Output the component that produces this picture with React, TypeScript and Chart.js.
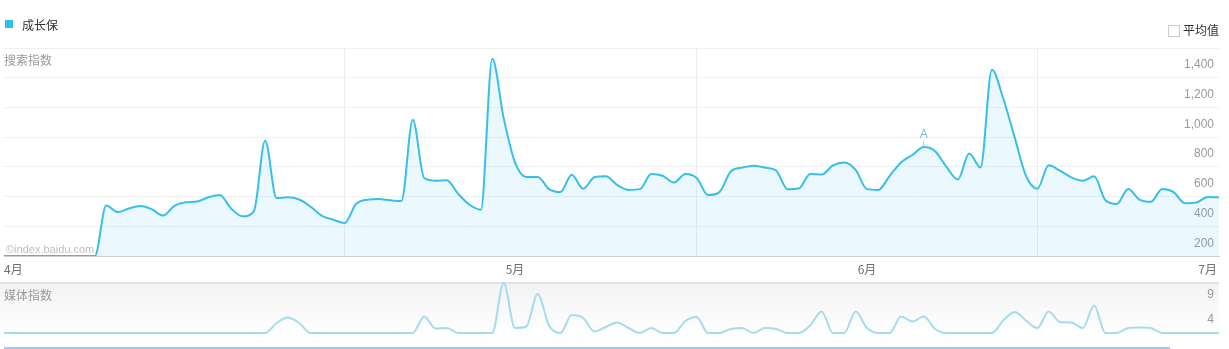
import React, { useEffect, useRef } from 'react';
import { Chart, registerables } from 'chart.js';

Chart.register(...registerables);

// ---- data ----
const searchValues: number[] = [
  0, 0, 0, 0, 0, 0, 0, 0, 0, 340,
  296, 320, 336, 315, 272, 338, 362, 367, 395, 410,
  320, 267, 300, 776, 390, 395, 380, 332, 270, 244,
  222, 350, 379, 383, 375, 370, 917, 525, 507, 510,
  418, 345, 312, 1328, 929, 630, 532, 532, 450, 430,
  547, 453, 530, 536, 478, 445, 450, 552, 540, 495,
  552, 525, 410, 430, 569, 595, 608, 595, 575, 450,
  455, 552, 548, 610, 630, 580, 450, 445, 540, 630,
  680, 733, 705, 600, 515, 690, 596, 1254, 1060, 800,
  540, 453, 610, 574, 529, 507, 536, 375, 350, 451,
  380, 365, 451, 430, 355, 360, 397, 395,
];

const mediaValues: number[] = [
  0, 0, 0, 0, 0, 0, 0, 0, 0, 0,
  0, 0, 0, 0, 0, 0, 0, 0, 0, 0,
  0, 0, 0, 0, 2.0, 3.1, 2.0, 0, 0, 0,
  0, 0, 0, 0, 0, 0, 0, 3.3, 0.9, 1.0,
  0, 0, 0, 0, 10, 1.0, 1.3, 7.8, 1.5, 0,
  3.6, 3.0, 0.3, 1.2, 2.1, 1.0, 0, 1.0, 0, 0,
  2.4, 3.2, 0, 0, 0.8, 1.0, 0, 1.0, 0.8, 0,
  0, 1.5, 4.3, 0, 0, 4.3, 1.0, 0, 0, 3.3,
  2.3, 3.3, 0.8, 0, 0, 0, 0, 0, 2.5, 4.2,
  2.5, 1.0, 4.3, 2.2, 2.1, 1.0, 5.5, 0, 0, 1.0,
  1.1, 1.0, 0, 0, 0, 0, 0, 0,
];

const categories: string[] = searchValues.map((_, i) => {
  const d = new Date(2016, 2, 17 + i);
  return `${d.getMonth() + 1}/${d.getDate()}`;
});

const monthTickIndex = [0, 45, 76, 106];
const monthTickLabels = ['4月', '5月', '6月', '7月'];
const verticalGridIndex = [30, 61, 91];
const searchAxisMin = 0;
const searchAxisMax = 1400;
const searchAxisStep = 200;
const mediaAxisMax = 10;
const mediaTickValues = [4, 9];
const eventMarkers = [{ index: 81, label: 'A' }];

const seriesName = '成长保';

const NUM_FONT = '"Liberation Sans", Arial, "Noto Sans CJK SC", sans-serif';
const CJK_FONT = '"Noto Sans CJK SC", "Liberation Sans", sans-serif';

const markerPlugin = {
  id: 'eventMarkers',
  afterDatasetsDraw(chart: any) {
    const { ctx, scales } = chart;
    const xs = scales.x;
    const ys = scales.y;
    const data = chart.data.datasets[0].data as number[];
    ctx.save();
    eventMarkers.forEach((m) => {
      const px = xs.getPixelForValue(m.index);
      const py = ys.getPixelForValue(data[m.index]);
      ctx.strokeStyle = '#8cc8de';
      ctx.lineWidth = 1;
      ctx.beginPath();
      ctx.moveTo(px, py - 1);
      ctx.lineTo(px, py - 6);
      ctx.stroke();
      ctx.fillStyle = '#72b8d6';
      ctx.font = `12px ${NUM_FONT}`;
      ctx.textAlign = 'center';
      ctx.textBaseline = 'middle';
      ctx.fillText(m.label, px, py - 12);
    });
    ctx.restore();
  },
};

// keep mirrored / thin axes from taking any room
const flatY = (axis: any) => {
  axis.width = 0;
  axis.paddingTop = 0;
  axis.paddingBottom = 0;
  axis.paddingLeft = 0;
  axis.paddingRight = 0;
};
const flatX = (axis: any) => {
  axis.height = 20;
  axis.paddingLeft = 0;
  axis.paddingRight = 0;
  axis.paddingTop = 0;
  axis.paddingBottom = 0;
};

export default function App() {
  const mainRef = useRef<HTMLCanvasElement | null>(null);
  const mediaRef = useRef<HTMLCanvasElement | null>(null);

  useEffect(() => {
    if (!mainRef.current || !mediaRef.current) return;
    const main = new Chart(mainRef.current, {
      type: 'line',
      data: {
        labels: categories,
        datasets: [
          {
            label: seriesName,
            data: searchValues,
            borderColor: '#36bfeb',
            backgroundColor: 'rgba(56,190,236,0.1)',
            fill: 'origin',
            borderWidth: 2,
            pointRadius: 0,
            pointHoverRadius: 0,
            cubicInterpolationMode: 'monotone',
          },
        ],
      },
      options: {
        responsive: false,
        animation: false,
        events: [],
        locale: 'en-US',
        layout: { autoPadding: false, padding: { top: 48, left: 4, right: 10, bottom: 14 } },
        plugins: { legend: { display: false }, tooltip: { enabled: false } },
        scales: {
          x: {
            type: 'category',
            afterFit: flatX,
            grid: {
              color: (c: any) => (verticalGridIndex.includes(c.index) ? '#ececec' : 'rgba(0,0,0,0)'),
              drawTicks: false,
              lineWidth: 1,
            },
            border: { display: true, color: '#cfcfcf', width: 1 },
            ticks: {
              autoSkip: false,
              maxRotation: 0,
              minRotation: 0,
              align: 'inner',
              padding: 6,
              color: '#707070',
              font: { size: 12, family: CJK_FONT },
              callback: (_v: any, i: number) => {
                const k = monthTickIndex.indexOf(i);
                return k >= 0 ? monthTickLabels[k] : '';
              },
            },
          },
          y: {
            position: 'right',
            min: searchAxisMin,
            max: searchAxisMax,
            afterFit: flatY,
            grid: { color: '#f0f0f0', drawTicks: false },
            border: { display: false },
            ticks: {
              stepSize: searchAxisStep,
              mirror: true,
              padding: -5,
              labelOffset: 17,
              color: '#999',
              font: { size: 12, family: NUM_FONT },
              callback: (v: any) => (Number(v) === 0 ? '' : Number(v).toLocaleString('en-US')),
            },
          },
        },
      },
      plugins: [markerPlugin],
    } as any);

    const media = new Chart(mediaRef.current, {
      type: 'line',
      data: {
        labels: categories,
        datasets: [
          {
            data: mediaValues,
            borderColor: '#a3dcee',
            borderWidth: 2,
            pointRadius: 0,
            pointHoverRadius: 0,
            fill: false,
            clip: false,
            cubicInterpolationMode: 'monotone',
          },
        ],
      },
      options: {
        responsive: false,
        animation: false,
        events: [],
        layout: { autoPadding: false, padding: { top: 3, left: 4, right: 10, bottom: 7 } },
        plugins: { legend: { display: false }, tooltip: { enabled: false } },
        scales: {
          x: { display: false },
          y: {
            position: 'right',
            min: 0,
            max: mediaAxisMax,
            afterFit: flatY,
            afterBuildTicks: (axis: any) => {
              axis.ticks = mediaTickValues.map((v) => ({ value: v }));
            },
            grid: { display: false },
            border: { display: false },
            ticks: {
              mirror: true,
              padding: -5,
              labelOffset: 7,
              color: '#999',
              font: { size: 12, family: NUM_FONT },
            },
          },
        },
      },
    } as any);

    return () => {
      main.destroy();
      media.destroy();
    };
  }, []);

  const abs = (s: React.CSSProperties): React.CSSProperties => ({ position: 'absolute', ...s });

  return (
    <div
      style={{
        position: 'absolute',
        left: 0,
        top: 0,
        width: 1229,
        height: 349,
        background: '#fff',
        overflow: 'hidden',
        fontFamily: CJK_FONT,
      }}
    >
      {/* media band background */}
      <div
        style={abs({
          left: 0,
          top: 282,
          width: 1219,
          height: 52,
          borderTop: '2px solid #e3e3e3',
          background: 'linear-gradient(#f3f3f3, #ffffff)',
        })}
      />
      <canvas ref={mainRef} width={1229} height={290} style={abs({ left: 0, top: 0 })} />
      <canvas ref={mediaRef} width={1229} height={60} style={abs({ left: 0, top: 280 })} />

      {/* legend */}
      <div style={abs({ left: 5, top: 20, width: 8, height: 8, background: '#2fbdf0' })} />
      <div style={abs({ left: 22, top: 18, fontSize: 12, lineHeight: '14px', color: '#333' })}>{seriesName}</div>

      {/* average checkbox */}
      <div
        style={abs({
          left: 1168,
          top: 25,
          width: 10,
          height: 10,
          border: '1px solid #cccccc',
          background: '#fff',
        })}
      />
      <div style={abs({ left: 1183, top: 23, fontSize: 12, lineHeight: '14px', color: '#333' })}>平均值</div>

      <div style={abs({ left: 4, top: 53, fontSize: 12, lineHeight: '14px', color: '#999' })}>搜索指数</div>
      <div style={abs({ left: 6, top: 243, fontSize: 11, lineHeight: '13px', color: '#c0c0c0', fontFamily: NUM_FONT })}>
        ©index.baidu.com
      </div>
      <div style={abs({ left: 4, top: 288, fontSize: 12, lineHeight: '14px', color: '#999' })}>媒体指数</div>

      {/* range selector edge */}
      <div style={abs({ left: 4, top: 347, width: 1166, height: 2, background: '#a9c6ee' })} />
    </div>
  );
}
